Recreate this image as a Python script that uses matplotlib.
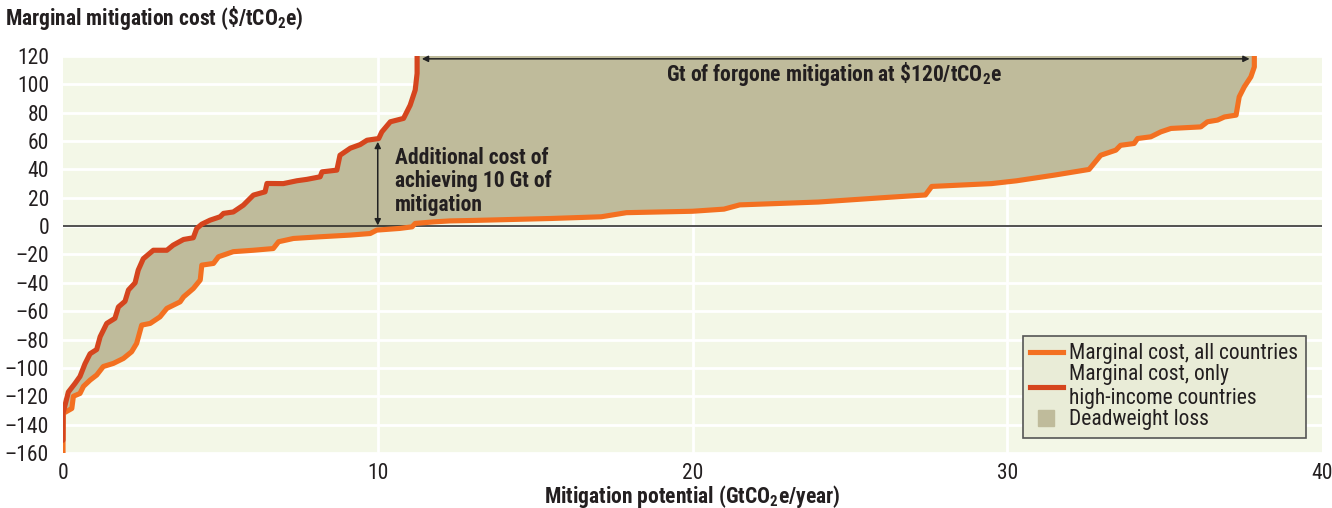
import matplotlib
matplotlib.use("Agg")
import matplotlib.pyplot as plt
import numpy as np
from matplotlib.lines import Line2D

# marginal cost curve, only high-income countries (GtCO2e/year, $/tCO2e)
high_x = [0.0, 0.0, 0.17, 0.38, 0.54, 0.7, 0.86, 1.07, 1.18, 1.39, 1.65, 1.76, 1.97,
          2.08, 2.29, 2.39, 2.55, 2.87, 3.3, 3.5, 3.83, 4.14, 4.25, 4.41, 4.67, 4.99,
          5.1, 5.41, 5.73, 6.05, 6.42, 6.48, 7.0, 7.43, 7.75, 8.17, 8.23, 8.7, 8.8,
          9.13, 9.44, 9.66, 10.03, 10.13, 10.4, 10.82, 11.03, 11.19, 11.25, 11.25]
high_y = [-151, -132, -117, -111, -106, -97, -90, -87, -78, -68.6, -65, -57, -53,
          -45, -40, -31, -23, -17, -17, -13.4, -9.4, -8.2, -1.6, 1.4, 4.2, 6.6,
          9, 10, 14.8, 21.9, 24.2, 30.1, 30, 32, 33, 34.8, 38.3, 39.5, 50,
          55, 57.5, 60.6, 61.8, 66.5, 73.6, 76, 85.3, 96, 107.7, 120]

# marginal cost curve, all countries
all_x = [0.0, 0.0, 0.01, 0.28, 0.33, 0.54, 0.65, 0.86, 1.07, 1.28, 1.6, 1.92, 2.18,
         2.34, 2.5, 2.77, 3.08, 3.3, 3.72, 3.83, 4.14, 4.36, 4.41, 4.78, 4.94, 5.41,
         6.05, 6.68, 6.85, 7.32, 8.17, 9.13, 9.76, 9.97, 10.7, 11.09, 11.19, 11.77,
         12.3, 13.0, 15.5, 17.1, 17.9, 20.0, 21.0, 21.5, 24.0, 26.0, 27.4, 27.6,
         29.5, 30.3, 31.5, 32.6, 32.97, 33.45, 33.6, 34.03, 34.14, 34.56, 34.88,
         35.2, 36.15, 36.36, 36.68, 36.9, 37.27, 37.37, 37.53, 37.74, 37.85, 37.85]
all_y = [-160, -151, -132, -128.6, -120, -118, -113, -108.6, -105, -99, -96.8, -93.3, -88.6,
         -82.7, -69.8, -68.6, -64, -58, -53.4, -49.9, -44, -38, -27.5, -26.3, -21.6, -18,
         -17, -15.8, -11, -8.7, -7.5, -6.3, -5.2, -2.8, -1.6, -0.5, 1.9, 3,
         3.7, 4.0, 5.4, 6.6, 9.5, 10.5, 12, 15, 17, 20, 22, 28,
         30, 32, 36, 40, 50, 53.6, 57, 58.3, 61.8, 63, 66.5,
         68.9, 70, 73.6, 74.8, 77, 78.3, 91.2, 98.2, 105.3, 112.3, 120]

x_ticks = [0, 10, 20, 30, 40]
y_ticks = list(range(-160, 121, 20))

c_all = '#F37021'
c_high = '#D5451E'
c_fill = '#BFBB9B'
c_bg = '#F3F7E7'
c_text = '#231F20'
fs = 15.5

plt.rcParams['font.family'] = ['Roboto Condensed', 'Roboto', 'DejaVu Sans']
plt.rcParams['mathtext.fontset'] = 'custom'
plt.rcParams['mathtext.rm'] = 'Roboto Condensed'
plt.rcParams['mathtext.bf'] = 'Roboto Condensed:bold'

fig = plt.figure(figsize=(13.32, 5.08), dpi=100)
ax = fig.add_axes([63 / 1332, 55 / 508, 1259 / 1332, 397 / 508])
ax.set_facecolor(c_bg)

# deadweight loss area between the two curves
ax.fill(np.concatenate([high_x, all_x[::-1]]),
        np.concatenate([high_y, all_y[::-1]]),
        color=c_fill, lw=0, zorder=1)

for v in x_ticks[1:-1]:
    ax.axvline(v, color='white', lw=2, zorder=0.5)
for v in y_ticks:
    ax.axhline(v, color='white', lw=2, zorder=0.5)
ax.axhline(0, color='#222222', lw=1.1, zorder=2)

ax.plot(all_x, all_y, color=c_all, lw=3.7, solid_capstyle='round', zorder=3)
ax.plot(high_x, high_y, color=c_high, lw=3.7, solid_capstyle='round', zorder=4)

ax.set_xlim(0, 40)
ax.set_ylim(-160, 120)
ax.set_xticks(x_ticks)
ax.set_yticks(y_ticks)
ax.set_yticklabels([str(v).replace('-', '\u2013') for v in y_ticks])
ax.tick_params(length=0, labelsize=fs, colors=c_text)
ax.tick_params(axis='y', pad=10)
ax.tick_params(axis='x', pad=7)
for s in ax.spines.values():
    s.set_visible(False)

# annotations
ax.annotate('', xy=(10, 0.5), xytext=(10, 59.5),
            arrowprops=dict(arrowstyle='<|-|>', color='#222222', lw=1.1,
                            mutation_scale=9, shrinkA=0, shrinkB=0), zorder=5)
ax.text(10.55, 56, 'Additional cost of\nachieving 10 Gt of\nmitigation',
        fontsize=fs, fontweight='bold', color=c_text, va='top', ha='left',
        linespacing=1.1, zorder=5)
ax.annotate('', xy=(11.4, 118), xytext=(37.7, 118),
            arrowprops=dict(arrowstyle='<|-|>', color='#222222', lw=1.1,
                            mutation_scale=9, shrinkA=0, shrinkB=0), zorder=5)
ax.text(24.5, 107, 'Gt of forgone mitigation at \\$120/tCO$_\\mathbf{2}$e',
        fontsize=fs, fontweight='bold', color=c_text, va='center', ha='center',
        zorder=5)

handles = [Line2D([], [], color=c_all, lw=3.7),
           Line2D([], [], color=c_high, lw=3.7),
           Line2D([], [], color=c_fill, marker='s', ls='', markersize=11)]
labels = ['Marginal cost, all countries',
          'Marginal cost, only\nhigh-income countries',
          'Deadweight loss']
leg = ax.legend(handles, labels, loc='lower right', bbox_to_anchor=(0.987, 0.038),
                fontsize=fs, frameon=True, fancybox=False, framealpha=1,
                facecolor='#E9ECD7', edgecolor='#555555', handlelength=1.5,
                handletextpad=0.3, labelspacing=0.0, borderpad=0.35,
                borderaxespad=0, labelcolor=c_text)
leg.get_frame().set_linewidth(1.2)
leg.set_zorder(6)

fig.text(5 / 1332, 1 - 18 / 508, 'Marginal mitigation cost (\\$/tCO$_\\mathbf{2}$e)',
         fontsize=fs, fontweight='bold', color=c_text, va='center', ha='left')
fig.text(692 / 1332, 1 - 497 / 508, 'Mitigation potential (GtCO$_\\mathbf{2}$e/year)',
         fontsize=fs, fontweight='bold', color=c_text, va='center', ha='center')

fig.savefig('out.png', dpi=100, facecolor='white')
